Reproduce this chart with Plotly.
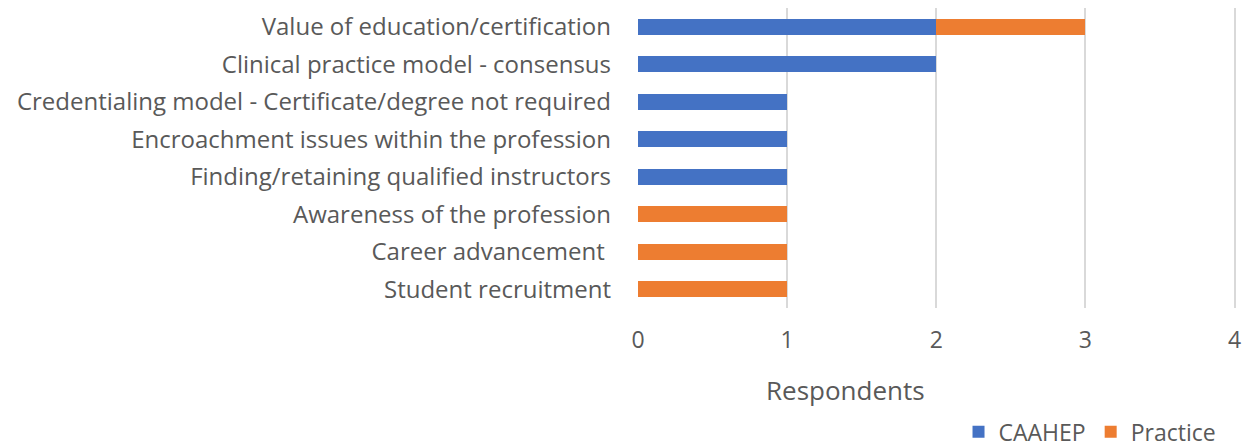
import plotly.graph_objects as go

categories = [
    "Value of education/certification",
    "Clinical practice model - consensus",
    "Credentialing model - Certificate/degree not required",
    "Encroachment issues within the profession",
    "Finding/retaining qualified instructors",
    "Awareness of the profession",
    "Career advancement ",
    "Student recruitment",
]
caahep = [2, 2, 1, 1, 1, 0, 0, 0]
practice = [1, 0, 0, 0, 0, 1, 1, 1]
x_ticks = [0, 1, 2, 3, 4]

FONT = "Open Sans"
TEXT = "#595959"

fig = go.Figure()
fig.add_trace(go.Bar(y=categories, x=caahep, name="CAAHEP", orientation="h",
                     marker=dict(color="#4472C4", line=dict(width=0))))
fig.add_trace(go.Bar(y=categories, x=practice, name="Practice", orientation="h",
                     marker=dict(color="#ED7D31", line=dict(width=0))))

fig.update_layout(
    width=1249, height=447,
    margin=dict(l=638, r=7, t=8, b=139, autoexpand=False),
    barmode="stack", bargap=0.58,
    plot_bgcolor="white", paper_bgcolor="white",
    font=dict(family=FONT, size=24, color=TEXT),
    showlegend=True,
    legend=dict(orientation="h", xref="container", yref="container",
                x=0.978, xanchor="right", y=0.034, yanchor="middle",
                font=dict(size=23, color=TEXT), traceorder="normal",
                tracegroupgap=0),
    annotations=[dict(text="Respondents", xref="paper", yref="paper",
                      x=0.343, y=-0.273, xanchor="center", yanchor="middle",
                      showarrow=False, font=dict(size=26, color=TEXT))],
)
fig.update_xaxes(range=[0, 4.05], tickvals=x_ticks, showgrid=True, gridcolor="#D9D9D9",
                 gridwidth=1.5, zeroline=False, showline=False, automargin=False,
                 tickfont=dict(size=23, color=TEXT), ticklabelstandoff=16)
fig.update_yaxes(autorange="reversed", showgrid=False, zeroline=False, automargin=False,
                 tickfont=dict(size=24, color=TEXT), ticklabelstandoff=26)

fig.write_html("out.html")
